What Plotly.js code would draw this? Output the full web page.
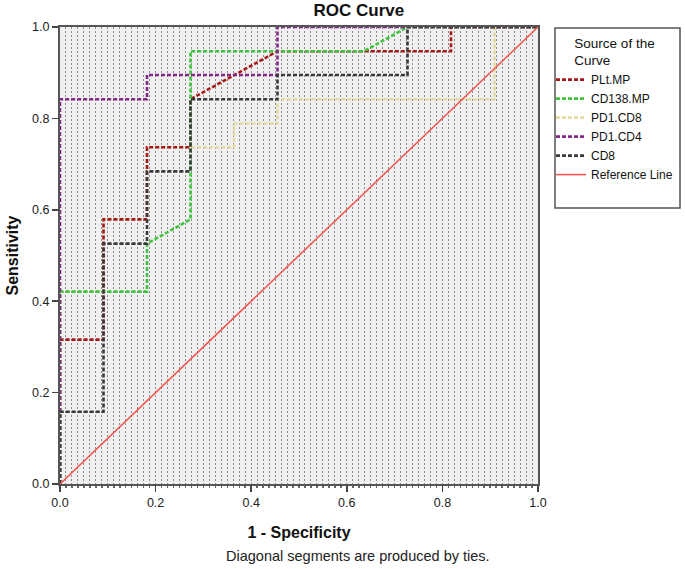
<!DOCTYPE html>
<html>
<head>
<meta charset="utf-8">
<script src="https://cdn.plot.ly/plotly-3.0.1.min.js"></script>
<style>html,body{margin:0;padding:0;background:#fff}#chart{width:685px;height:569px}</style>
</head>
<body>
<div id="chart"></div>
<script>
// ROC curve data: 1 - specificity (x) and sensitivity (y)
const pltMP_x   = [0, 0, 0.091, 0.091, 0.182, 0.182, 0.273, 0.273, 0.455, 0.818, 0.818, 1];
const pltMP_y   = [0, 0.316, 0.316, 0.579, 0.579, 0.737, 0.737, 0.842, 0.947, 0.947, 1, 1];

const cd138_x   = [0, 0, 0.182, 0.182, 0.273, 0.273, 0.636, 0.727, 1];
const cd138_y   = [0, 0.421, 0.421, 0.526, 0.579, 0.947, 0.947, 1, 1];

const pd1cd8_x  = [0, 0, 0.091, 0.091, 0.182, 0.182, 0.364, 0.364, 0.455, 0.455, 0.909, 0.909, 1];
const pd1cd8_y  = [0, 0.421, 0.421, 0.579, 0.579, 0.737, 0.737, 0.789, 0.789, 0.842, 0.842, 1, 1];

const pd1cd4_x  = [0, 0, 0.182, 0.182, 0.455, 0.455, 1];
const pd1cd4_y  = [0, 0.842, 0.842, 0.895, 0.895, 1, 1];

const cd8_x     = [0, 0, 0.091, 0.091, 0.182, 0.182, 0.273, 0.273, 0.455, 0.455, 0.727, 0.727, 1];
const cd8_y     = [0, 0.158, 0.158, 0.526, 0.526, 0.684, 0.684, 0.842, 0.842, 0.895, 0.895, 1, 1];

const ref_x     = [0, 1];
const ref_y     = [0, 1];

const seriesNames = ["PLt.MP", "CD138.MP", "PD1.CD8", "PD1.CD4", "CD8", "Reference Line"];
const tickVals = [0, 0.2, 0.4, 0.6, 0.8, 1.0];
const tickText = ["0.0", "0.2", "0.4", "0.6", "0.8", "1.0"];

const dashStyle = "4px,2px";
function curve(x, y, name, color, rank) {
  return {x: x, y: y, name: name, type: "scatter", mode: "lines",
          line: {color: color, width: 2.6, dash: dashStyle, shape: "linear"},
          legendrank: rank, hoverinfo: "skip"};
}

const traces = [
  curve(pd1cd8_x, pd1cd8_y, seriesNames[2], "#e2dba4", 3),
  curve(pltMP_x, pltMP_y, seriesNames[0], "#a81818", 1),
  curve(cd138_x, cd138_y, seriesNames[1], "#3ec43e", 2),
  curve(pd1cd4_x, pd1cd4_y, seriesNames[3], "#86288a", 4),
  curve(cd8_x, cd8_y, seriesNames[4], "#3a3a3a", 5),
  {x: ref_x, y: ref_y, name: seriesNames[5], type: "scatter", mode: "lines",
   line: {color: "#f2504a", width: 1.5}, legendrank: 6, hoverinfo: "skip"}
];

const font = "Liberation Sans, Arial, sans-serif";
const axisCommon = {
  range: [0, 1], tickmode: "array", tickvals: tickVals, ticktext: tickText,
  ticks: "outside", ticklen: 6, tickwidth: 1.5, tickcolor: "#444",
  tickfont: {family: font, size: 12.5, color: "#222"},
  showline: true, linecolor: "#555", linewidth: 2, mirror: true,
  zeroline: false, fixedrange: true
};

const layout = {
  width: 685, height: 569,
  margin: {l: 60, r: 147, t: 27, b: 85, autoexpand: false},
  paper_bgcolor: "#ffffff", plot_bgcolor: "#f0f0f0",
  font: {family: font, color: "#111"},
  title: {text: "<b>ROC Curve</b>", font: {family: font, size: 17, color: "#111"},
          xref: "container", x: 0.524, xanchor: "center", yref: "container", y: 0.983, yanchor: "middle"},
  xaxis: Object.assign({}, axisCommon, {
    showgrid: true, gridcolor: "#8c8c8c", gridwidth: 1, griddash: "2px,2px",
    minor: {dtick: 0.0125, showgrid: true, gridcolor: "#8c8c8c", gridwidth: 1, griddash: "2px,2px",
            ticks: "outside", ticklen: 2, tickcolor: "#666"},
    title: {text: "<b>1 - Specificity</b>", font: {family: font, size: 16, color: "#111"}, standoff: 18}
  }),
  yaxis: Object.assign({}, axisCommon, {
    showgrid: false,
    title: {text: "<b>Sensitivity</b>", font: {family: font, size: 16, color: "#111"}, standoff: 10}
  }),
  showlegend: true,
  legend: {
    xref: "container", x: 551 / 685, xanchor: "left", yref: "container", y: 1 - 30 / 569, yanchor: "top",
    bgcolor: "rgba(0,0,0,0)", borderwidth: 0,
    font: {family: font, size: 12, color: "#111"},
    title: {text: "Source of the<br>Curve", side: "top center", font: {family: font, size: 13.5, color: "#111"}},
    itemwidth: 30, tracegroupgap: 0
  },
  shapes: [
    {type: "rect", xref: "paper", yref: "paper", x0: (555 - 60) / 478, x1: (680 - 60) / 478,
     y0: (484 - 208) / 457, y1: (484 - 28) / 457,
     line: {color: "#555", width: 1.5}, fillcolor: "rgba(0,0,0,0)", layer: "above"}
  ],
  annotations: [
    {text: "Diagonal segments are produced by ties.", xref: "paper", yref: "paper",
     x: (358 - 60) / 478, y: -(556 - 484) / 457, xanchor: "center", yanchor: "middle",
     showarrow: false, font: {family: font, size: 14.5, color: "#222"}}
  ]
};

Plotly.newPlot("chart", traces, layout, {staticPlot: true, displayModeBar: false});
</script>
</body>
</html>
